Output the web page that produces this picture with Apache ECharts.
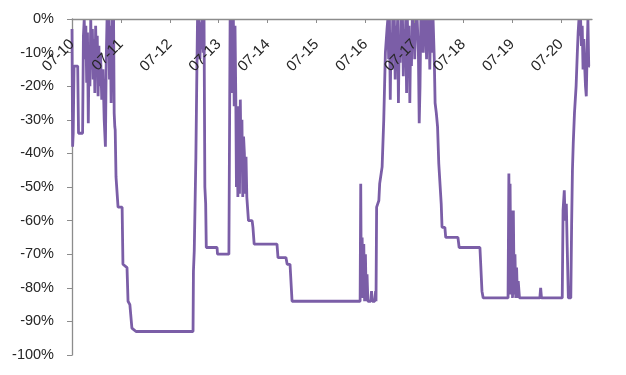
<!DOCTYPE html>
<html><head><meta charset="utf-8">
<script src="https://cdn.jsdelivr.net/npm/echarts@6/dist/echarts.min.js"></script>
<style>html,body{margin:0;padding:0;background:#fff}#c{width:626px;height:375px}</style>
</head><body><div id="c"></div>
<script>
// x = months since July 2010, y = drawdown in %
const tickLabels = ['07-10','07-11','07-12','07-13','07-14','07-15','07-16','07-17','07-18','07-19','07-20'];
const yTicks = [0,-10,-20,-30,-40,-50,-60,-70,-80,-90,-100];

const ep2010 = [[0,-3],[0.15,-38],[0.3,-34],[0.5,-14],[1.4,-14],[1.6,-34],[2.6,-34],[2.8,-5],[3.0,0],[3.2,-12],[3.4,-2],[3.6,-19],[3.8,-4],[4.0,-31],[4.2,-8],[4.4,-20],[4.6,0],[4.8,-15],[5.0,-3],[5.2,-18],[5.4,-6],[5.6,-22],[5.8,-2],[6.0,-14],[6.2,-5],[6.4,-23],[6.6,-8],[6.8,-20],[7.0,-10],[7.3,-24],[7.6,-15],[7.9,-30],[8.2,-38],[8.4,-12],[8.6,0],[8.8,-10],[9.0,0],[9.2,-18],[9.4,-2],[9.6,-25],[9.8,0],[10.0,-12],[10.2,0],[10.35,-28],[10.5,-32],[10.6,-33],[10.8,-47],[11.05,-47],[11.3,-56],[12.3,-56],[12.5,-73],[13.5,-74],[13.75,-84],[14.2,-85],[14.7,-92],[15.7,-93]];
const ep2013 = [[29.7,-93],[29.8,-75],[30.0,-69],[30.2,-55],[30.4,-41],[30.6,-20],[30.8,0],[31.0,-8],[31.2,0],[31.4,-12],[31.6,-1],[31.8,-9],[32.0,0],[32.2,-10],[32.4,0],[32.6,-50],[32.8,-55],[32.95,-68],[35.6,-68],[35.7,-70],[38.5,-70],[38.7,-24],[38.8,0]];
const ep2013b = [[39.0,-5],[39.2,0],[39.4,-22],[39.6,0],[39.8,-26],[40.0,-2],[40.2,-24],[40.35,-50],[40.5,-30],[40.7,-53],[40.9,-26],[41.1,-52],[41.3,-24],[41.5,-45],[41.7,-30],[41.9,-53],[42.1,-35],[42.3,-40],[42.5,-52],[42.7,-41],[42.9,-53],[43.1,-53],[43.3,-60],[44.2,-60],[44.4,-62],[44.7,-67],[50.3,-67],[50.55,-71],[52.5,-71],[52.8,-73],[53.5,-73],[54.0,-84]];
const ep2016 = [[70.7,-84],[70.85,-49],[71.0,-82],[71.2,-65],[71.4,-83],[71.6,-67],[71.8,-84],[72.0,-70],[72.2,-84],[72.4,-76],[72.6,-84],[73.3,-84],[73.5,-81],[73.7,-84],[74.3,-84],[74.5,-81],[74.6,-84],[74.75,-56],[75.3,-54],[75.5,-49],[76.1,-44],[76.5,-30],[76.9,-10],[77.3,-3],[77.5,0],[77.7,-12],[77.9,0],[78.1,-24],[78.3,-4],[78.5,-15],[78.7,0],[78.9,-9],[79.1,0],[79.3,-18],[79.5,-2],[79.7,-8],[79.9,0],[80.1,-25],[80.3,-5],[80.5,-13],[80.7,0],[80.9,-6],[81.1,0],[81.3,-17],[81.5,-3],[81.7,-10],[81.9,0],[82.1,-22],[82.3,0],[82.5,-12],[82.7,-2],[82.9,-25],[83.1,-5],[83.3,-14],[83.5,0],[83.7,-8],[83.9,0],[84.1,-12],[84.3,0],[84.5,-6],[84.7,0],[85.0,-10],[85.2,-31],[85.4,-20],[85.6,0],[85.8,-8],[86.0,0],[86.2,-10],[86.4,0],[86.6,-5],[86.8,0],[87.0,-12],[87.2,0],[87.4,-7],[87.6,0],[87.8,-15],[88.0,0],[88.3,-10],[88.6,0],[88.9,-12],[89.1,-25],[89.4,-28],[89.7,-32],[90.0,-43],[90.6,-55],[90.8,-62],[91.5,-62],[91.7,-65],[94.7,-65],[95.0,-68],[100.1,-68],[100.6,-81],[100.9,-83]];
const ep2019 = [[107.0,-83],[107.2,-46],[107.4,-80],[107.5,-49],[107.7,-82],[107.9,-57],[108.1,-83],[108.3,-57],[108.5,-82],[108.7,-70],[108.9,-83],[109.1,-74],[109.3,-83],[109.5,-78],[109.8,-83],[114.8,-83],[115.0,-80],[115.2,-83],[120.3,-83],[120.5,-57],[120.8,-51],[121.0,-60],[121.3,-55],[121.5,-67],[121.8,-83],[122.4,-83],[122.6,-61],[122.8,-45],[123.0,-37],[123.3,-28],[123.7,-20],[124.0,-10],[124.2,-4],[124.4,0],[124.6,-5],[124.8,0],[125.0,-8],[125.2,-2],[125.4,-15],[125.6,-6],[125.8,-14],[126.0,-20],[126.2,-23],[126.4,-10],[126.6,0],[126.8,-14],[127.1,-14]];

const seriesData = [].concat(ep2010, ep2013, ep2013b, ep2016, ep2019);

const chart = echarts.init(document.getElementById('c'), null, {renderer:'canvas'});
chart.setOption({
  animation: false,
  backgroundColor: '#ffffff',
  grid: {left: 72, right: 34, top: 19, bottom: 20},
  xAxis: {
    type: 'value', min: 0, max: 127.6, interval: 12, position: 'top', z: 5,
    axisLine: {show: true, onZero: false, lineStyle: {color: '#8c8c8c', width: 1.3}},
    axisTick: {show: true, inside: true, length: 4, lineStyle: {color: '#8c8c8c'}},
    splitLine: {show: false},
    axisLabel: {
      inside: true, rotate: -45, align: 'right', verticalAlign: 'middle', margin: 23,
      color: '#262626', fontFamily: 'Liberation Sans', fontSize: 15,
      showMaxLabel: false,
      formatter: v => { const i = Math.round(v / 12); return (Math.abs(v - i*12) < 0.01 && tickLabels[i]) ? tickLabels[i] : ''; }
    }
  },
  yAxis: {
    type: 'value', min: yTicks[yTicks.length-1], max: yTicks[0], interval: 10,
    axisLine: {show: true, onZero: false, lineStyle: {color: '#8c8c8c', width: 1.3}},
    axisTick: {show: true, length: 5, lineStyle: {color: '#8c8c8c'}},
    splitLine: {show: false},
    axisLabel: {margin: 18, color: '#262626', fontFamily: 'Liberation Sans', fontSize: 14.5, formatter: v => v + '%'}
  },
  series: [{
    type: 'line', data: seriesData, showSymbol: false, symbol: 'none',
    lineStyle: {color: '#7B5EA7', width: 2.8}, z: 1
  }]
});
</script>
</body></html>
